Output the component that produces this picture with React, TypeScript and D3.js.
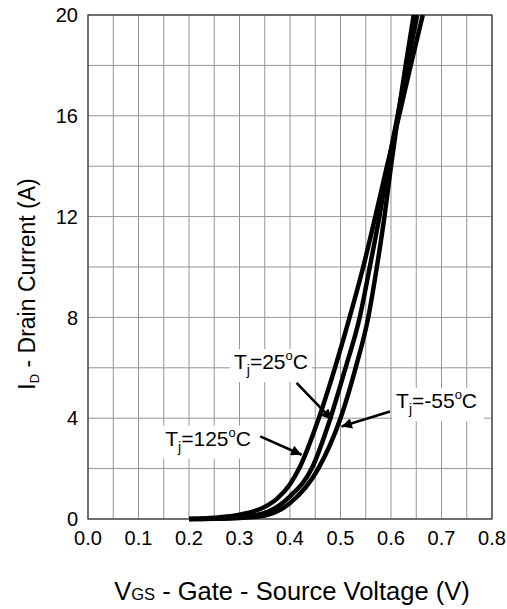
import React from 'react';
import * as d3 from 'd3';

// transfer characteristics
const vgs125 = [0.2, 0.25, 0.3, 0.35, 0.375, 0.4, 0.418, 0.457, 0.489, 0.518, 0.545, 0.569, 0.592, 0.616, 0.639, 0.663];
const id125 = [0, 0.05, 0.17, 0.48, 0.82, 1.38, 2, 4, 6, 8, 10, 12, 14, 16, 18, 20];

const vgs25 = [0.2, 0.25, 0.3, 0.35, 0.4, 0.443, 0.48, 0.51, 0.538, 0.558, 0.577, 0.594, 0.613, 0.632, 0.652];
const id25 = [0, 0.02, 0.07, 0.24, 0.9, 2, 4, 6, 8, 10, 12, 14, 16, 18, 20];

const vgs55 = [0.2, 0.25, 0.3, 0.35, 0.4, 0.456, 0.5, 0.53, 0.555, 0.572, 0.587, 0.6, 0.614, 0.629, 0.645];
const id55 = [0, 0.01, 0.04, 0.14, 0.63, 2, 4, 6, 8, 10, 12, 14, 16, 18, 20];

const xTicks = [0, 0.1, 0.2, 0.3, 0.4, 0.5, 0.6, 0.7, 0.8];
const yTicks = [0, 4, 8, 12, 16, 20];

const labelTemps = ['25', '-55', '125'];

const series = [
  { v: vgs125, i: id125 },
  { v: vgs25, i: id25 },
  { v: vgs55, i: id55 },
];

// label / arrow anchors in data units (V, A)
const labelAt = [
  [0.289, 5.95],
  [0.61, 4.4],
  [0.153, 2.91],
];
const arrowFrom = [
  [0.413, 5.4],
  [0.598, 4.27],
  [0.341, 3.28],
];
const arrowTo = [
  [0.483, 3.94],
  [0.502, 3.67],
  [0.423, 2.55],
];

export default function App() {
  const width = 507;
  const height = 609;
  const margin = { top: 15, right: 15, bottom: 90, left: 88 };

  const x = d3.scaleLinear().domain([0, 0.8]).range([margin.left, width - margin.right]);
  const y = d3.scaleLinear().domain([0, 20]).range([height - margin.bottom, margin.top]);

  const xGrid = d3.range(0, 17).map((k) => k * 0.05);
  const yGrid = d3.range(0, 11).map((k) => k * 2);

  const font = 'Liberation Sans, Arial, sans-serif';

  return (
    <svg
      width={width}
      height={height}
      style={{ position: 'absolute', left: 0, top: 0, background: '#fff' }}
      fontFamily={font}
    >
      <defs>
        <clipPath id="plot">
          <rect x={x(0)} y={y(20)} width={x(0.8) - x(0)} height={y(0) - y(20) + 5} />
        </clipPath>
        <marker id="head" viewBox="0 0 10 10" refX="10" refY="5" markerWidth="5" markerHeight="4" markerUnits="strokeWidth" orient="auto">
          <path d="M0,0 L10,5 L0,10 z" fill="#000" />
        </marker>
      </defs>

      {/* grid */}
      {xGrid.map((v) => (
        <line key={'gx' + v} x1={x(v)} x2={x(v)} y1={y(0)} y2={y(20)} stroke="#959595" strokeWidth={1} />
      ))}
      {yGrid.map((v) => (
        <line key={'gy' + v} x1={x(0)} x2={x(0.8)} y1={y(v)} y2={y(v)} stroke="#959595" strokeWidth={1} />
      ))}
      <rect x={x(0)} y={y(20)} width={x(0.8) - x(0)} height={y(0) - y(20)} fill="none" stroke="#333" strokeWidth={1.2} />

      {/* curves */}
      <g clipPath="url(#plot)">
        {series.map((s, k) => {
          const pts = s.v.map((v, j) => [x(v), y(s.i[j])] as [number, number]);
          const path = d3.line().curve(d3.curveMonotoneX)(pts);
          return <path key={k} d={path || ''} fill="none" stroke="#000" strokeWidth={4.5} />;
        })}
      </g>

      {/* labels */}
      {labelTemps.map((t, k) => {
        const tx = x(labelAt[k][0]);
        const ty = y(labelAt[k][1]);
        const w = 74 + (t.length - 2) * 10;
        return (
          <g key={'l' + t}>
            <rect x={tx - 4} y={ty - 20} width={w + 8} height={33} fill="#fff" />
            <text x={tx} y={ty} fontSize={21} fill="#000">
              T
              <tspan fontSize={14} dy={6}>j</tspan>
              <tspan dy={-6}>={t}</tspan>
              <tspan fontSize={13} dy={-9}>o</tspan>
              <tspan dy={9}>C</tspan>
            </text>
            <line
              x1={x(arrowFrom[k][0])}
              y1={y(arrowFrom[k][1])}
              x2={x(arrowTo[k][0])}
              y2={y(arrowTo[k][1])}
              stroke="#000"
              strokeWidth={2.6}
              markerEnd="url(#head)"
            />
          </g>
        );
      })}

      {/* tick labels */}
      {xTicks.map((v) => (
        <text key={'tx' + v} x={x(v)} y={y(0) + 26} textAnchor="middle" fontSize={20} fill="#000">
          {v.toFixed(1)}
        </text>
      ))}
      {yTicks.map((v) => (
        <text key={'ty' + v} x={x(0) - 10} y={y(v)} dy="0.36em" textAnchor="end" fontSize={20} fill="#000">
          {v}
        </text>
      ))}

      {/* axis titles */}
      <text x={292} y={600} textAnchor="middle" fontSize={25.5} fill="#000">
        V<tspan fontSize={16.5}>GS</tspan>
        <tspan> - Gate - Source Voltage (V)</tspan>
      </text>
      <text transform="translate(35,284) rotate(-90)" textAnchor="middle" fontSize={23} fill="#000">
        I<tspan fontSize={13} dy={4}>D</tspan>
        <tspan dy={-4}> - Drain Current (A)</tspan>
      </text>
    </svg>
  );
}
